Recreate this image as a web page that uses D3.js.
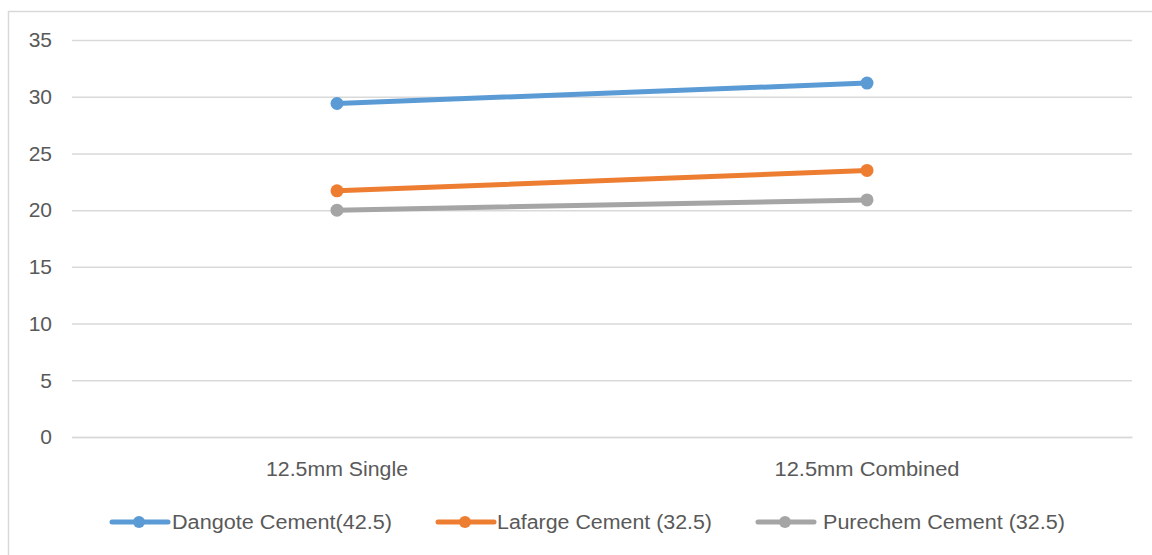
<!DOCTYPE html>
<html><head><meta charset="utf-8">
<script src="https://cdn.jsdelivr.net/npm/d3@7"></script>
<style>body{margin:0;background:#fff}svg{display:block}text{font-family:"Liberation Sans",sans-serif;fill:#595959}</style>
</head><body><svg id="c" width="1152" height="555"></svg>
<script>
const categories = ["12.5mm Single", "12.5mm Combined"];
const seriesNames = ["Dangote Cement(42.5)", "Lafarge Cement (32.5)", "Purechem Cement (32.5)"];
const dangote = [29.4, 31.2];
const lafarge = [21.7, 23.5];
const purechem = [20.0, 20.9];
const yTicks = [0, 5, 10, 15, 20, 25, 30, 35];
const colors = ["#5b9bd5", "#ed7d31", "#a5a5a5"];
const series = [dangote, lafarge, purechem];

const svg = d3.select("#c");
svg.append("rect").attr("x", 8.5).attr("y", 11.5).attr("width", 1160).attr("height", 560)
  .attr("fill", "#fff").attr("stroke", "#d9d9d9").attr("stroke-width", 1.5);

const x = d3.scaleBand().domain(categories).range([72, 1132]);
const y = d3.scaleLinear().domain([0, 35]).range([437, 40]);

const gy = svg.append("g").attr("transform", "translate(72,0)")
  .call(d3.axisLeft(y).tickValues(yTicks).tickSize(-1060).tickPadding(20).tickFormat(d3.format("d")));
gy.select(".domain").remove();
gy.selectAll(".tick line").attr("stroke", "#d9d9d9").attr("stroke-width", 1.5);
gy.selectAll(".tick text").attr("font-size", 21).attr("fill", "#595959")
  .style("font-family", '"Liberation Sans",sans-serif');

const gx = svg.append("g").attr("transform", "translate(0,437)")
  .call(d3.axisBottom(x).tickSize(0).tickPadding(25));
gx.select(".domain").attr("stroke", "#d9d9d9").attr("stroke-width", 1.5);
gx.selectAll(".tick text").attr("font-size", 20).attr("fill", "#595959")
  .style("font-family", '"Liberation Sans",sans-serif')
  .attr("textLength", (d, i) => [142, 185][i]).attr("lengthAdjust", "spacingAndGlyphs");

const line = d3.line().x((d, i) => x(categories[i]) + x.bandwidth() / 2).y(d => y(d));
series.forEach((s, k) => {
  svg.append("path").datum(s).attr("d", line).attr("fill", "none")
    .attr("stroke", colors[k]).attr("stroke-width", 5).attr("stroke-linecap", "round");
  svg.selectAll(null).data(s).enter().append("circle")
    .attr("cx", (d, i) => x(categories[i]) + x.bandwidth() / 2).attr("cy", d => y(d))
    .attr("r", 6.5).attr("fill", colors[k]);
});

const legendX = [112, 438, 758];
const legendW = [220, 215, 242];
const legendTx = [60, 59, 65];
const lg = svg.append("g");
seriesNames.forEach((n, k) => {
  const g = lg.append("g").attr("transform", `translate(${legendX[k]},522)`);
  g.append("line").attr("x1", 0).attr("x2", 56).attr("stroke", colors[k]).attr("stroke-width", 5).attr("stroke-linecap", "round");
  g.append("circle").attr("cx", 27).attr("r", 6).attr("fill", colors[k]);
  g.append("text").attr("x", legendTx[k]).attr("dy", "0.36em").attr("font-size", 20)
    .attr("textLength", legendW[k]).attr("lengthAdjust", "spacingAndGlyphs").text(n);
});
</script></body></html>
